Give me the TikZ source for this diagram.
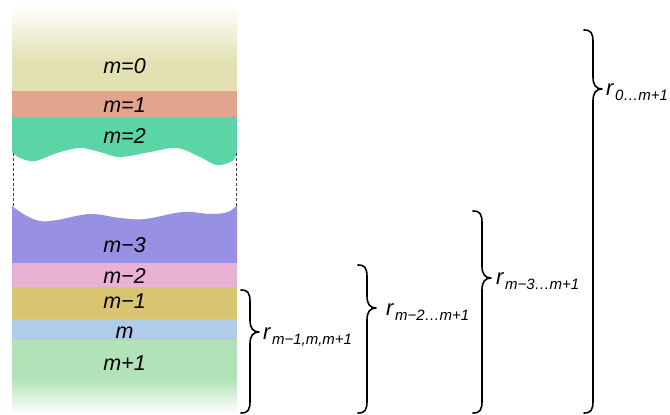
\documentclass[tikz,border=0pt]{standalone}
\usepackage{fontspec}
\setmainfont{Liberation Sans}
\definecolor{cA}{HTML}{E2E1B3}
\definecolor{cB}{HTML}{E3A48D}
\definecolor{cC}{HTML}{5BD5A5}
\definecolor{cD}{HTML}{9790E3}
\definecolor{cE}{HTML}{EAB1D7}
\definecolor{cF}{HTML}{D9C470}
\definecolor{cG}{HTML}{B1CCEB}
\definecolor{cH}{HTML}{B2E3B8}
\newcommand\mybrace[4]{%
 \draw[bracestyle] ({#1-9},#2) .. controls ({#1-2},#2) and (#1,{#2+3}) .. (#1,{#2+12}) -- (#1,{#3-12}) .. controls (#1,{#3-4}) and ({#1+3},#3) .. ({#1+9},#3) .. controls ({#1+3},#3) and (#1,{#3+4}) .. (#1,{#3+12}) -- (#1,{#4-12}) .. controls (#1,{#4-3}) and ({#1-2},#4) .. ({#1-9},#4);}
\newcommand\rlab[1]{{\fontsize{22}{26}\selectfont\itshape r}\kern1.5pt\raisebox{-5.5pt}{\fontsize{15}{17}\selectfont\itshape #1}}
\begin{document}
\begin{tikzpicture}[x=1pt,y=-1pt,
  bracestyle/.style={line width=1.6pt,line cap=round,line join=round},
  lbl/.style={inner sep=0,anchor=base,font=\fontsize{21.5}{26}\selectfont\itshape},
  rl/.style={inner sep=0,anchor=base west},
  dashln/.style={densely dashed,line width=0.8pt,black!75}]
\useasboundingbox (0,0) rectangle (670,415);
% layers
\shade[top color=white,bottom color=cA] (12,5) rectangle (237,62);
\fill[cA] (12,61.5) rectangle (237,91);
\fill[cB] (12,91) rectangle (237,117);
\fill[cC] (12,116.8) -- (237,116.8) -- plot[smooth,tension=0.6] coordinates {(237,153) (232,161) (217,165) (200,157) (177,148) (150,152) (120,157) (100,152) (80,148) (57,153) (35,161) (20,158) (12,152)} -- cycle;
\fill[cD] (12,263) -- (237,263) -- plot[smooth,tension=0.6] coordinates {(237,205) (228,212) (210,214) (183,212) (145,219) (120,218) (90,214) (57,220) (40,221) (25,215) (12,206)} -- cycle;
\fill[cE] (12,263) rectangle (237,287);
\fill[cF] (12,287) rectangle (237,319);
\fill[cG] (12,319) rectangle (237,340);
\fill[cH] (12,340) rectangle (237,378.5);
\shade[top color=cH,bottom color=white] (12,378) rectangle (237,414);
\draw[dashln] (13,153) -- (13,206);
\draw[dashln] (236,153) -- (236,206);
% layer labels
\node[lbl] (l0) at (124.5,73) {m=0};
\node[lbl] (l1) at (124.5,112) {m=1};
\node[lbl] (l2) at (124.5,143) {m=2};
\node[lbl] (l3) at (124.5,252) {m−3};
\node[lbl] (l4) at (124.5,283) {m−2};
\node[lbl] (l5) at (124.5,308) {m−1};
\node[lbl] (l6) at (124.5,338) {m};
\node[lbl] (l7) at (124.5,370) {m+1};
% braces
\mybrace{250}{290}{332}{413}
\mybrace{367}{265}{308}{413}
\mybrace{482}{211}{278}{413}
\mybrace{593}{30}{89}{413}
\node[rl] (r1) at (263,339) {\rlab{m−1,m,m+1}};
\node[rl] (r2) at (386,315) {\rlab{m−2…m+1}};
\node[rl] (r3) at (496,284) {\rlab{m−3…m+1}};
\node[rl] (r4) at (606,95) {\rlab{0…m+1}};
\end{tikzpicture}
\end{document}
